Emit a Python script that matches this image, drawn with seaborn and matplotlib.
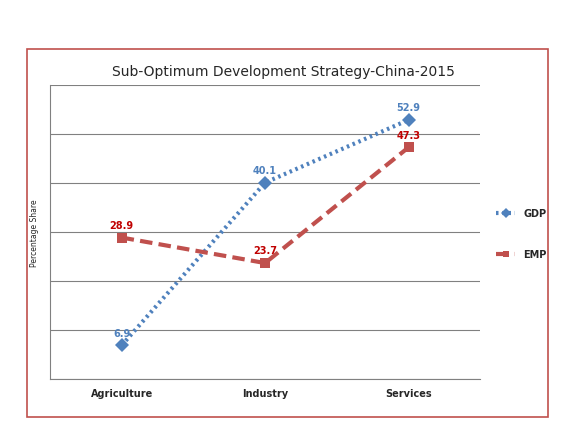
import matplotlib
matplotlib.use("Agg")
import matplotlib.pyplot as plt
import seaborn as sns
import pandas as pd
from matplotlib.patches import Rectangle
from matplotlib.lines import Line2D

sectors = ["Agriculture", "Industry", "Services"]
gdp = [6.9, 40.1, 52.9]
emp = [28.9, 23.7, 47.3]

sns.set_style("white")
plt.rcParams['font.family'] = ['DejaVu Sans']

fig = plt.figure(figsize=(5.8, 4.35), dpi=100)
fig.patches.append(Rectangle((0.047, 0.039), 0.898, 0.846, transform=fig.transFigure,
                             fill=False, edgecolor="#c0504d", lw=1.2))
ax = fig.add_axes([0.086, 0.126, 0.742, 0.676])

df = pd.DataFrame({"x": list(range(3)) * 2, "y": gdp + emp,
                   "s": ["GDP"] * 3 + ["EMP"] * 3})
blue, red = "#4f81bd", "#c0504d"
sns.lineplot(data=df[df.s == "GDP"], x="x", y="y", ax=ax, color=blue, lw=3,
             linestyle=(0, (0.6, 0.9)), marker="D", markersize=7, markeredgewidth=0)
sns.lineplot(data=df[df.s == "EMP"], x="x", y="y", ax=ax, color=red, lw=3,
             linestyle=(0, (3, 1.5)), marker="s", markersize=7, markeredgewidth=0)

for i in range(3):
    ax.text(i, gdp[i] + 2, f"{gdp[i]}", color=blue, fontsize=7, fontweight="bold", ha="center")
    ax.text(i, emp[i] + 2, f"{emp[i]}", color="#c00000", fontsize=7, fontweight="bold", ha="center")

ax.set_xlim(-0.5, 2.5)
ax.set_ylim(0, 60)
ax.set_yticks(range(0, 61, 10))
ax.set_yticklabels([])
ax.tick_params(axis="y", length=0)
ax.grid(axis="y", color="#808080", lw=0.8)
ax.set_xticks(range(3))
ax.set_xticklabels(sectors, fontsize=7, fontweight="bold")
ax.tick_params(axis="x", length=0, pad=6)
for side in ["top", "right"]:
    ax.spines[side].set_visible(False)
ax.spines["left"].set_color("#808080")
ax.spines["bottom"].set_color("#808080")
ax.set_xlabel("")
ax.set_ylabel("Percentage Share", fontsize=5.5)

fig.text(0.488, 0.835, "Sub-Optimum Development Strategy-China-2015", ha="center",
         va="center", fontsize=10)

handles = [Line2D([], [], color=blue, lw=3, linestyle=(0, (0.6, 0.9)), marker="D",
                  markersize=5, markeredgewidth=0),
           Line2D([], [], color=red, lw=3, linestyle=(0, (3, 1.5)), marker="s",
                  markersize=5, markeredgewidth=0)]
leg = fig.legend(handles, ["GDP", "EMP"], loc="center left", bbox_to_anchor=(0.84, 0.46),
                 frameon=False, labelspacing=3.2, handlelength=2,
                 prop={"size": 7, "weight": "bold"})

fig.savefig("out.png", dpi=100)
